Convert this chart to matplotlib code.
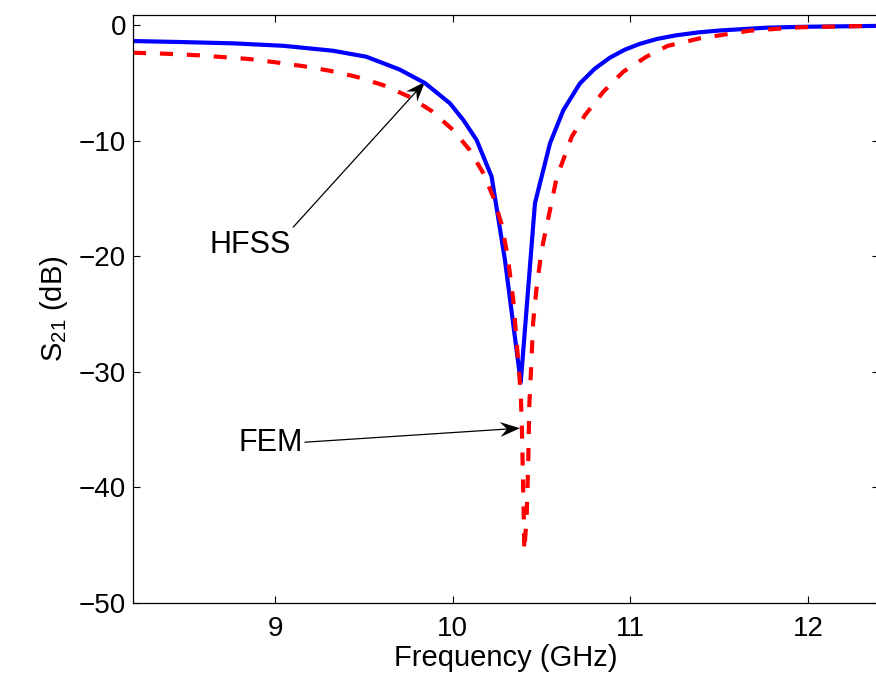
import matplotlib
matplotlib.use("Agg")
import matplotlib.pyplot as plt
import numpy as np
from matplotlib.patches import Polygon

plt.rcParams['font.family'] = ['Liberation Sans', 'DejaVu Sans']
plt.rcParams['mathtext.fontset'] = 'custom'
plt.rcParams['mathtext.rm'] = 'Liberation Sans'
plt.rcParams['mathtext.it'] = 'Liberation Sans:italic'
plt.rcParams['lines.scale_dashes'] = False

# HFSS (blue solid)
hfss_f = [8.2, 8.482, 8.764, 9.045, 9.326, 9.514, 9.70, 9.844, 9.985, 10.06, 10.135,
          10.219, 10.294, 10.383, 10.463, 10.548, 10.623, 10.716, 10.80, 10.885,
          10.97, 11.054, 11.15, 11.26, 11.39, 11.5, 11.77, 12.0, 12.4]
hfss_db = [-1.36, -1.45, -1.56, -1.77, -2.2, -2.72, -3.82, -5.0, -6.76, -8.2, -9.94,
           -13.1, -20.3, -30.9, -15.4, -10.2, -7.34, -5.03, -3.75, -2.8,
           -2.1, -1.6, -1.18, -0.86, -0.6, -0.45, -0.2, -0.12, -0.05]

# FEM (red dashed)
fem_f = [8.2, 8.388, 8.576, 8.857, 9.007, 9.157, 9.307, 9.457, 9.607, 9.757, 9.88,
         10.003, 10.096, 10.172, 10.228, 10.275, 10.31, 10.341, 10.37, 10.383,
         10.389, 10.394, 10.40, 10.403, 10.416, 10.425, 10.431, 10.439, 10.453,
         10.471, 10.50, 10.538, 10.585, 10.67, 10.745, 10.848, 10.96, 11.09,
         11.21, 11.39, 11.67, 11.95, 12.4]
fem_db = [-2.37, -2.46, -2.6, -2.92, -3.21, -3.53, -3.93, -4.45, -5.17, -6.19, -7.4,
          -9.07, -10.8, -12.8, -14.85, -17.2, -20.05, -23.8, -29.3, -31.9,
          -34.5, -38.2, -42.6, -45.5, -42.6, -37.95, -33.0, -30.4, -25.7,
          -22.9, -19.5, -16.7, -13.2, -9.65, -7.77, -5.75, -4.02, -2.72,
          -1.78, -1.13, -0.47, -0.17, -0.03]

x_ticks = [9, 10, 11, 12]
y_ticks = [0, -10, -20, -30, -40, -50]
y_ticklabels = ['0', '\u221210', '\u221220', '\u221230', '\u221240', '\u221250']

fig = plt.figure(figsize=(8.76, 6.86), dpi=100)
ax = fig.add_axes([133/876, 1 - 603/686, (879 - 133)/876, (603 - 14.7)/686])

ax.plot(hfss_f, hfss_db, color=(0, 0, 1), lw=3.0, solid_joinstyle='round')
ax.plot(fem_f, fem_db, color=(1, 0, 0), lw=3.0, linestyle=(0, (9.4, 10.0)),
        dash_capstyle='butt')

ax.set_xlim(8.2, 12.4)
ax.set_ylim(-50, 0.92)
ax.set_xticks(x_ticks)
ax.set_yticks(y_ticks)
ax.set_yticklabels(y_ticklabels)
ax.tick_params(direction='in', length=5, width=0.8, labelsize=20,
               top=True, right=True, colors='black')
ax.tick_params(axis='x', pad=9)
ax.tick_params(axis='y', pad=5)
for s in ax.spines.values():
    s.set_linewidth(0.9)

ax.set_xlabel('Frequency (GHz)', fontsize=21, labelpad=2)
ax.set_ylabel('S$_{21}$ (dB)', fontsize=21, labelpad=6)


def matlab_arrow(ax, tail, tip, L=20.0, W=7.5, notch=7.0):
    tr = ax.transData
    inv = tr.inverted()
    p0 = np.array(tr.transform(tail))
    p1 = np.array(tr.transform(tip))
    u = (p1 - p0) / np.linalg.norm(p1 - p0)
    n = np.array([-u[1], u[0]])
    back = p1 - (L - notch) * u
    pts = [p1, p1 - L * u + W * n, back, p1 - L * u - W * n]
    pts_d = inv.transform(np.array(pts))
    back_d = inv.transform(back)
    ax.plot([tail[0], back_d[0]], [tail[1], back_d[1]], color='black', lw=0.9)
    ax.add_patch(Polygon(pts_d, closed=True, facecolor='black', edgecolor='none'))


matlab_arrow(ax, (9.103, -17.45), (9.844, -4.89))
ax.text(8.86, -19.03, 'HFSS', fontsize=22, ha='center', va='center')
matlab_arrow(ax, (9.169, -36.08), (10.379, -34.87))
ax.text(8.975, -36.15, 'FEM', fontsize=22, ha='center', va='center')

fig.savefig('out.png', dpi=100)
